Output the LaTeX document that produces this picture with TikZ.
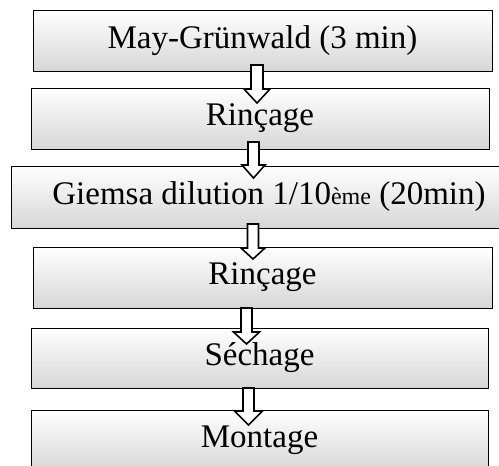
\documentclass[tikz,border=0pt]{standalone}
\usepackage{fontspec}
\setmainfont{Liberation Serif}
\tikzset{
  stepbox/.style={draw=black, line width=1pt, top color=white, bottom color=gray!32,
    inner sep=0pt, font=\fontsize{33}{33}\selectfont, text=black},
  blockarr/.style={draw=black, fill=white, line width=1.6pt, line join=miter}
}
\newcommand{\blkarrow}[6]{%
  \draw[blockarr] ({#1-#5},#2) -- ({#1+#5},#2) -- ({#1+#5},#3) -- ({#1+#6},#3)
    -- (#1,#4) -- ({#1-#6},#3) -- ({#1-#5},#3) -- cycle;}
\begin{document}
\begin{tikzpicture}[x=1pt,y=-1pt]
\clip (0,0) rectangle (499,466);
\fill[white] (0,0) rectangle (499,466);
\node[stepbox, minimum width=459pt, minimum height=61pt] (b1) at (262.5,40.5) {May-Grünwald (3 min)};
\node[stepbox, minimum width=458pt, minimum height=61pt] (b2) at (260,118.5) {Rinçage};
\node[stepbox, minimum width=516pt, minimum height=62pt] (b3) at (269,197) {Giemsa dilution 1/10{\fontsize{24}{24}\selectfont ème} (20min)};
\node[stepbox, minimum width=459pt, minimum height=61pt] (b4) at (262.5,277.5) {Rinçage};
\node[stepbox, minimum width=457pt, minimum height=60pt] (b5) at (259.5,358) {Séchage};
\node[stepbox, minimum width=457pt, minimum height=61pt] (b6) at (259.5,440.5) {Montage};
\blkarrow{257}{65}{89}{103}{6}{13}
\blkarrow{253.5}{142}{165}{178}{5.5}{11.5}
\blkarrow{253}{224}{248}{259}{5.5}{12}
\blkarrow{246.5}{308}{332}{344}{5.5}{13}
\blkarrow{248.5}{388}{411}{425}{5.5}{14}
\end{tikzpicture}
\end{document}
